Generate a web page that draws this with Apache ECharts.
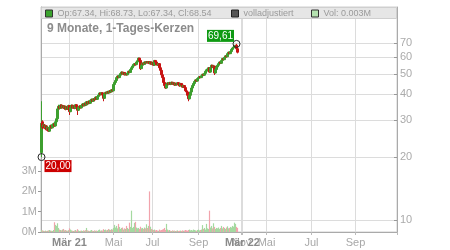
<!DOCTYPE html>
<html>
<head>
<meta charset="utf-8">
<script src="https://cdn.jsdelivr.net/npm/echarts@6/dist/echarts.min.js"></script>
<style>html,body{margin:0;padding:0;background:#fff;}#c{width:450px;height:250px;}</style>
</head>
<body>
<div id="c"></div>
<script>
// ---- data ----
const totalDays = 356;
const monthTicks = [[28,'Mär 21'],[72,'Mai'],[111,'Jul'],[157,'Sep'],[200,'Nov'],[201,'Mär 22'],[225,'Mai'],[270,'Jul'],[314,'Sep']];
const yearLabels = ['Mär 21','Mär 22'];
const priceTicks = [10,20,30,40,50,60,70];
const volTicks = [0,1,2,3];
// [open, close, low, high]
const ohlc = [
[21,29,20,37],[29.5,27.8,27.2,30],[28,28.5,27.6,29],[28.5,27.5,27.2,28.8],[27.6,28.2,27.3,28.5],
[28.2,27.0,26.8,28.4],[27.0,27.8,26.9,28.1],[27.5,26.6,26.4,27.7],[26.6,27.6,26.5,27.8],[27.5,28.3,27.3,28.6],
[28.3,27.6,27.4,28.5],[27.6,28.6,27.5,28.8],[28.6,28.9,28.3,29.2],[28.9,28.2,27.9,29.1],[28.2,29.5,28.0,29.7],
[29.5,30.5,29.3,31.0],[30.5,34.0,30.3,34.5],[34.0,35.0,33.6,35.6],[35.0,34.2,33.8,35.3],[34.2,35.5,34.0,35.8],
[35.5,34.5,34.2,35.7],[34.5,35.2,34.3,35.5],[35.2,34.3,34.0,35.4],[34.3,35.0,34.1,35.3],[35.0,33.8,33.5,35.2],
[33.8,34.8,33.6,35.0],[34.8,34.0,33.7,35.0],[34.0,35.3,33.9,35.6],[35.3,33.0,31.8,35.4],[33.0,34.5,32.8,34.8],
[34.5,35.4,34.3,35.7],[35.4,34.4,34.1,35.6],[34.4,35.0,34.2,35.3],[35.0,34.2,33.9,35.2],[34.2,35.6,34.0,35.9],
[35.6,34.8,34.5,35.8],[34.8,33.5,31.8,35.0],[33.5,34.6,33.3,34.9],[34.6,35.1,34.4,35.4],[35.1,34.4,34.1,35.3],
[34.4,35.3,34.2,35.6],[35.3,35.9,35.1,36.2],[35.9,35.2,34.9,36.1],[35.2,36.2,35.0,36.5],[36.2,35.5,35.2,36.4],
[35.5,36.8,35.3,37.1],[36.8,36.0,35.7,37.0],[36.0,37.0,35.8,37.3],[37.0,36.2,35.9,37.2],[36.2,37.4,36.0,37.7],
[37.4,37.8,37.1,38.1],[37.8,37.0,36.7,38.0],[37.0,38.0,36.8,38.3],[38.0,37.5,37.2,38.2],[37.8,38.7,37.6,39.0],
[38.7,37.8,37.5,38.9],[37.8,39.0,37.6,39.3],[39.0,39.6,38.8,39.9],[39.6,40.5,39.4,40.8],[40.5,39.8,39.5,40.7],
[39.8,40.6,39.6,40.9],[40.6,39.7,39.4,40.8],[39.7,38.2,37.0,39.9],[38.2,40.2,38.0,40.5],[40.2,40.8,40.0,41.1],
[40.8,40.3,40.0,41.0],[40.3,41.2,40.1,41.5],[41.2,40.6,40.3,41.4],[40.6,41.5,40.4,41.8],[41.5,41.0,40.7,41.7],
[41.0,42.0,40.8,42.3],[42.0,41.5,41.2,42.2],[41.5,44.5,41.3,44.9],[44.5,45.5,44.2,45.9],[45.5,46.5,45.2,46.9],
[46.5,48.0,46.2,48.4],[48.0,48.8,47.7,49.2],[48.8,48.0,47.6,49.0],[48.0,49.3,47.8,49.6],[49.3,50.2,49.0,50.6],
[50.2,51.0,49.9,51.4],[51.0,50.0,49.6,51.2],[50.0,50.8,49.8,51.1],[50.8,49.5,49.2,51.0],[49.5,50.2,49.3,50.5],
[50.2,49.5,49.1,50.4],[49.5,50.5,49.3,50.8],[50.5,51.5,50.3,51.8],[51.5,50.8,50.4,51.7],[50.8,52.5,50.6,52.8],
[52.5,53.5,52.2,53.9],[53.5,54.5,53.2,54.9],[54.5,55.5,54.2,55.9],[55.5,56.0,55.2,56.4],[56.0,55.2,54.8,56.2],
[55.4,57.0,55.2,57.3],[57.0,57.8,56.7,58.2],[57.8,59.5,57.5,59.8],[59.5,58.0,57.6,59.7],[58.0,53.0,52.2,58.3],
[53.0,55.0,52.8,55.4],[55.0,56.3,54.7,56.6],[56.3,55.5,55.1,56.5],[55.5,57.0,55.3,57.3],[57.0,56.4,56.0,57.2],
[56.4,57.3,56.2,57.6],[57.3,56.5,56.1,57.5],[56.5,57.2,56.3,57.5],[57.2,56.0,55.6,57.4],[56.0,57.0,55.8,57.3],
[57.0,55.5,55.1,57.2],[55.5,56.5,55.3,56.8],[56.5,55.0,54.6,56.7],[55.0,58.0,54.8,58.3],[58.0,57.0,56.6,58.2],
[57.0,55.5,55.1,57.2],[55.5,55.0,54.6,55.8],[55.0,56.0,54.8,56.3],[56.0,53.5,53.1,56.2],[53.5,52.0,51.6,53.7],
[52.0,49.5,49.1,52.2],[49.5,48.0,47.6,49.7],[48.0,45.5,45.1,48.2],[45.5,44.0,43.6,45.7],[44.0,42.8,42.4,44.2],
[42.8,44.5,42.6,44.8],[44.5,45.3,44.2,45.6],[45.3,44.5,44.1,45.5],[44.5,45.5,44.3,45.8],[45.5,44.6,44.2,45.7],
[44.6,45.6,44.4,45.9],[45.6,44.8,44.4,45.8],[44.8,45.3,44.6,45.6],[45.3,44.2,43.8,45.5],[44.2,45.0,44.0,45.3],
[45.0,44.4,44.0,45.2],[44.4,45.4,44.2,45.7],[45.4,44.5,44.1,45.6],[44.5,43.8,43.4,44.7],[43.8,45.0,43.6,45.3],
[45.0,44.2,43.8,45.2],[44.2,43.2,42.8,44.4],[43.2,44.0,43.0,44.3],[44.0,43.0,42.6,44.2],[43.0,41.5,41.1,43.2],
[41.5,41.0,40.6,41.8],[41.0,39.5,39.1,41.2],[39.5,38.0,37.0,39.7],[38.0,39.5,37.8,39.8],[39.5,41.0,39.3,41.3],
[41.0,42.8,40.8,43.1],[42.8,44.0,42.6,44.3],[44.0,45.0,43.8,45.3],[45.0,46.0,44.8,46.3],[46.0,46.8,45.8,47.1],
[46.8,46.2,45.9,47.0],[46.2,47.5,46.0,47.8],[47.5,48.0,47.2,48.3],[48.0,48.6,47.8,48.9],[48.6,48.0,47.7,48.8],
[48.0,49.0,47.8,49.3],[49.0,49.8,48.8,50.1],[49.8,49.3,49.0,50.0],[49.3,50.3,49.1,50.6],[50.3,51.5,50.1,51.8],
[51.5,52.3,51.3,52.6],[52.3,52.8,52.0,53.1],[52.8,53.5,52.6,53.9],[53.5,51.0,50.6,53.7],[51.0,53.5,50.8,53.8],
[53.5,55.0,53.2,55.4],[55.0,53.8,53.4,55.2],[53.8,54.5,53.6,54.8],[54.5,50.5,49.4,54.7],[50.5,52.5,50.3,52.8],
[52.5,54.0,52.3,54.3],[54.0,55.0,53.8,55.3],[55.0,56.0,54.8,56.3],[56.0,57.0,55.8,57.3],[57.0,56.2,55.9,57.2],
[56.2,58.0,56.0,58.3],[58.0,59.3,57.8,59.6],[59.3,58.5,58.2,59.5],[58.5,60.0,58.3,60.3],[60.0,61.0,59.8,61.4],
[61.0,60.4,60.0,61.2],[60.4,62.5,60.2,62.8],[62.5,63.5,62.2,63.9],[63.5,62.5,62.1,63.7],[62.5,64.0,62.3,64.4],
[64.0,65.5,63.8,65.8],[65.5,66.5,65.2,66.9],[66.5,67.2,66.2,67.6],[66.9,67.6,66.6,68.0],[67.34,68.54,67.34,68.73],
[68.6,66.0,65.7,69.61],[66.0,63.5,62.7,66.4]
];
// volume in millions
const volumes = [
0.10,0.08,0.06,0.05,0.07,0.05,0.06,0.08,0.10,0.07,0.06,0.05,0.10,
0.48,0.35,0.30,0.43,
0.20,0.12,0.10,0.08,0.12,0.15,0.08,0.10,0.07,0.06,0.09,0.18,0.12,
0.08,0.06,0.05,0.07,0.10,0.06,0.14,0.08,0.05,0.06,0.07,0.05,0.08,0.06,0.09,
0.20,0.08,0.06,0.05,0.07,0.10,0.06,0.05,0.08,0.06,0.07,0.05,0.09,0.12,0.06,
0.08,0.07,0.14,0.10,0.12,0.08,0.10,0.15,0.12,0.10,0.14,0.12,0.20,
0.35,0.22,0.30,0.18,0.40,0.25,0.15,0.20,0.22,0.12,0.18,0.15,0.30,0.20,0.15,0.46,0.25,
1.05,0.20,0.25,0.45,0.50,0.22,0.18,0.20,0.15,0.26,
0.18,0.20,0.15,0.22,0.18,0.38,0.20,0.30,2.00,0.26,0.15,0.12,0.10,
0.12,0.08,0.10,0.07,0.06,0.12,0.08,0.10,0.12,0.14,0.20,0.10,0.40,
0.12,0.08,0.10,0.06,0.05,0.08,0.06,0.07,0.05,0.06,0.08,0.05,0.06,0.07,0.05,0.08,0.06,0.07,0.10,0.08,0.06,0.10,0.12,0.08,0.10,0.07,0.12,0.10,0.08,0.06,0.10,0.12,0.08,0.10,0.12,
0.34,0.15,0.20,0.12,0.40,0.18,0.15,1.05,0.22,0.30,0.18,0.43,0.25,0.15,0.20,
0.18,0.22,0.15,0.20,0.30,0.18,0.25,0.20,0.15,0.22,0.28,0.18,0.20,0.25,0.22,0.30,0.26,0.46,0.40,0.25,0.20
];
const highMark = {index:195, value:69.61, label:'69,61'};
const lowMark = {index:0, value:20.00, label:'20,00'};
const ohlcName = 'Op:67.34, Hi:68.73, Lo:67.34, Cl:68.54';
const adjName = 'volladjustiert';
const volName = 'Vol: 0.003M';
const titleText = '9 Monate, 1-Tages-Kerzen';

// ---- build ----
const L = v => Math.log10(v);
const categories = new Array(totalDays).fill('');
monthTicks.forEach(([i, t]) => { categories[i] = t; });
const candleData = ohlc.map(([o,c,l,h]) => [L(o), L(c), L(l), L(h)]);
const UP = '#3d9f2f', DOWN = '#c81414', VUP = '#a5d9a0', VDOWN = '#f2a3ac';
const volData = volumes.map((v, i) => ({value: v, itemStyle: {color: ohlc[i][1] >= ohlc[i][0] ? VUP : VDOWN}}));
const showIdx = (idx, val) => val !== '';
const FONT = '"Liberation Sans", Arial, sans-serif';

const chart = echarts.init(document.getElementById('c'), null, {renderer: 'canvas'});
chart.setOption({
  animation: false,
  textStyle: {fontFamily: FONT},
  title: {text: titleText, left: 47, top: 23, padding: 0, z: 8,
    textStyle: {fontSize: 12, fontWeight: 'bold', color: '#8c8c8c', fontFamily: FONT}},
  graphic: [{type: 'rect', z: 3, silent: true,
    shape: {x: 41.5, y: 7.5, width: 355, height: 11},
    style: {fill: '#e6e6e6', stroke: '#cfcfcf', lineWidth: 1}}],
  legend: [
    {left: 45, top: 9, z: 8, icon: 'rect', itemWidth: 7, itemHeight: 7, padding: 0,
      textStyle: {fontSize: 9, color: '#9a9a9a', fontFamily: FONT},
      itemStyle: {borderColor: '#333', borderWidth: 1},
      data: [{name: ohlcName, itemStyle: {color: '#3aa32d', borderColor: '#333', borderWidth: 1}}]},
    {left: 231, top: 9, z: 8, icon: 'rect', itemWidth: 7, itemHeight: 7, padding: 0,
      textStyle: {fontSize: 9, color: '#9a9a9a', fontFamily: FONT},
      data: [{name: adjName, itemStyle: {color: '#555', borderColor: '#222', borderWidth: 1}}]},
    {left: 311, top: 9, z: 8, icon: 'rect', itemWidth: 7, itemHeight: 7, padding: 0,
      textStyle: {fontSize: 9, color: '#9a9a9a', fontFamily: FONT},
      data: [{name: volName, itemStyle: {color: '#b5e2b0', borderColor: '#333', borderWidth: 1}}]}
  ],
  grid: {left: 41, right: 53, top: 7, bottom: 18, show: true, borderColor: '#cfcfcf', borderWidth: 1, backgroundColor: 'transparent'},
  xAxis: {
    type: 'category', data: categories, boundaryGap: true,
    axisLine: {lineStyle: {color: '#aaa'}},
    axisTick: {show: true, interval: showIdx, length: 3, lineStyle: {color: '#bbb'}},
    splitLine: {show: true, interval: showIdx, lineStyle: {color: '#dcdcdc'}},
    axisLabel: {interval: showIdx, margin: 5, fontSize: 11, color: '#a8a8a8', fontFamily: FONT,
      formatter: v => yearLabels.includes(v) ? '{y|' + v + '}' : v,
      rich: {y: {fontSize: 11, fontWeight: 'bold', color: '#8a8a8a', fontFamily: FONT}}}
  },
  yAxis: [
    {type: 'value', position: 'right', min: 1 - 12/209, max: 1 + 213/209, scale: true,
      axisLine: {show: true, lineStyle: {color: '#aaa'}},
      axisTick: {show: true, inside: true, length: 3, lineStyle: {color: '#999'}, customValues: priceTicks.map(L)},
      axisLabel: {customValues: priceTicks.map(L), margin: 3, fontSize: 11, color: '#ababab', fontFamily: FONT,
        formatter: v => String(Math.round(Math.pow(10, v)))},
      splitLine: {show: true, lineStyle: {color: '#dcdcdc'}}},
    {type: 'value', position: 'left', min: 0, max: 225/20.3,
      axisLine: {show: true, lineStyle: {color: '#aaa'}},
      axisTick: {show: true, length: 3, lineStyle: {color: '#999'}, customValues: volTicks},
      axisLabel: {customValues: volTicks, margin: 4, fontSize: 11, color: '#ababab', fontFamily: FONT,
        formatter: v => v + 'M'},
      splitLine: {show: false}}
  ],
  series: [
    {name: volName, type: 'bar', xAxisIndex: 0, yAxisIndex: 1, data: volData, barWidth: 1.2, z: 1,
      itemStyle: {color: '#b5e2b0'}},
    {name: adjName, type: 'line', data: [], itemStyle: {color: '#555'}},
    {name: ohlcName, type: 'candlestick', xAxisIndex: 0, yAxisIndex: 0, data: candleData, barWidth: 1.6, z: 3,
      itemStyle: {color: UP, color0: DOWN, borderColor: UP, borderColor0: DOWN, borderWidth: 1},
      markPoint: {
        symbol: 'circle', symbolSize: 7, z: 9,
        itemStyle: {color: 'rgba(255,255,255,0)', borderColor: '#222', borderWidth: 1},
        label: {show: true, position: 'inside', color: '#fff', fontSize: 10, lineHeight: 10, padding: [1, 1], fontFamily: FONT},
        data: [
          {coord: [highMark.index, L(highMark.value)], label: {formatter: highMark.label, offset: [-16, -8], backgroundColor: '#0e9a12'}},
          {coord: [lowMark.index, L(lowMark.value)], label: {formatter: lowMark.label, offset: [16.5, 9], backgroundColor: '#cc0000'}}
        ]
      }}
  ]
});
</script>
</body>
</html>
